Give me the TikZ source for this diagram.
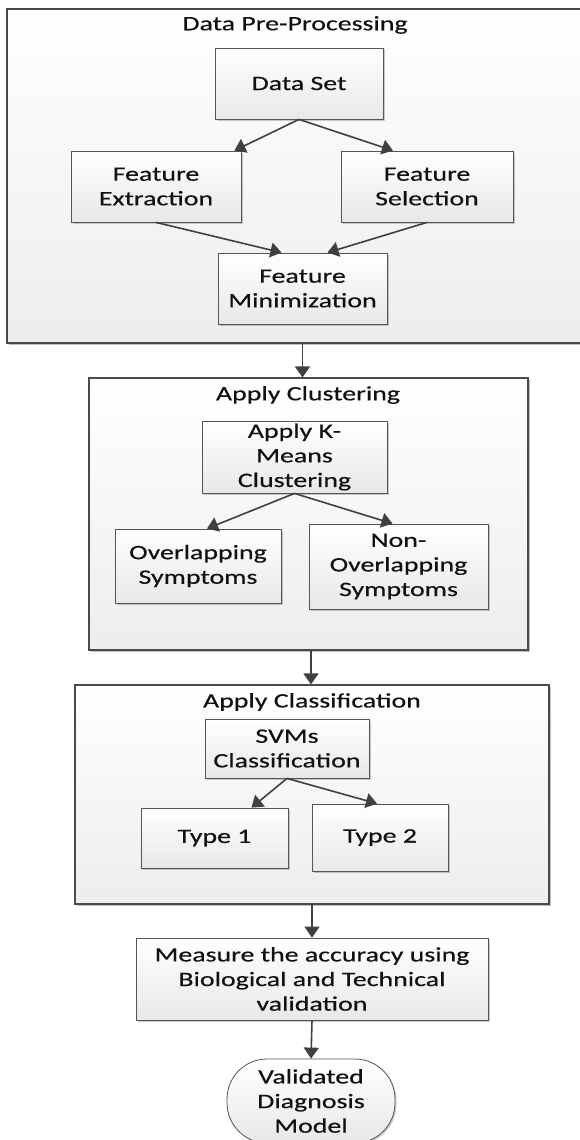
\documentclass[tikz,border=0pt]{standalone}
\usepackage{fontspec}
\setmainfont[FakeStretch=1.36,FakeBold=0.4]{Carlito}
\usetikzlibrary{arrows.meta,shadows}
\definecolor{edgec}{HTML}{555555}
\definecolor{outerc}{HTML}{4A4A4A}
\definecolor{arrc}{HTML}{404040}
\definecolor{txtc}{HTML}{111111}
\begin{document}
\begin{tikzpicture}[x=1pt,y=-1pt,
  outerbox/.style={draw=outerc, line width=1.1pt, top color=white, bottom color=black!7,
    drop shadow={shadow xshift=1.5pt, shadow yshift=-1.5pt, opacity=0.25, fill=black}},
  stepbox/.style={draw=edgec, line width=0.8pt, top color=white, bottom color=black!9,
    align=center, inner sep=0pt, text=txtc, font=\fontsize{20.5}{24.6}\selectfont,
    drop shadow={shadow xshift=1.5pt, shadow yshift=-1.5pt, opacity=0.2, fill=black}},
  titletext/.style={text=txtc, font=\fontsize{20.5}{24.6}\selectfont, inner sep=0pt},
  arr/.style={draw=arrc, line width=1.6pt, -{Triangle[length=11pt,width=15pt]}}]
\useasboundingbox (0,0) rectangle (580,1140);
\fill[white] (0,0) rectangle (580,1140);
\clip (0,0) rectangle (580,1140);

% outer containers
\node[outerbox, minimum width=578pt, minimum height=334pt, inner sep=0pt] (pre) at (296,176) {};
\node[outerbox, minimum width=439pt, minimum height=272pt, inner sep=0pt] (clu) at (308.5,514) {};
\node[outerbox, minimum width=474pt, minimum height=219pt, inner sep=0pt] (cla) at (312,794.5) {};

% titles
\node[titletext] (tpre) at (295,25) {Data Pre-Processing};
\node[titletext] (tclu) at (308,395) {Apply Clustering};
\node[titletext] (tcla) at (312,702) {Apply Classification};

% pre-processing boxes
\node[stepbox, minimum width=168pt, minimum height=71pt] (ds) at (299,83.5) {Data Set};
\node[stepbox, minimum width=170pt, minimum height=71pt] (fe) at (156,186.5) {Feature\\Extraction};
\node[stepbox, minimum width=172pt, minimum height=71pt] (fs) at (427,186.5) {Feature\\Selection};
\node[stepbox, minimum width=169pt, minimum height=71pt] (fm) at (302.5,288.5) {Feature\\Minimization};

% clustering boxes
\node[stepbox, minimum width=185pt, minimum height=72pt] (km) at (294.5,457) {Apply K-\\Means\\Clustering};
\node[stepbox, minimum width=166pt, minimum height=74pt] (ov) at (198,566) {Overlapping\\Symptoms};
\node[stepbox, minimum width=179pt, minimum height=85pt] (nov) at (398.5,566.5) {Non-\\Overlapping\\Symptoms};

% classification boxes
\node[stepbox, minimum width=164pt, minimum height=59pt] (svm) at (287,748.5) {SVMs\\Classification};
\node[stepbox, minimum width=147pt, minimum height=60pt] (t1) at (214.5,838) {Type 1};
\node[stepbox, minimum width=136pt, minimum height=67pt] (t2) at (380,837.5) {Type 2};

% measure and terminal
\node[stepbox, minimum width=352pt, minimum height=82pt] (me) at (312,979) {Measure the accuracy using\\Biological and Technical\\validation};
\node[stepbox, minimum width=168pt, minimum height=84pt, rounded corners=40pt] (vm) at (311,1101) {Validated\\Diagnosis\\Model};

% connectors
\draw[arr] (ds.south) -- ([xshift=-7pt]fe.north east);
\draw[arr] (ds.south) -- ([xshift=-34pt]fs.north);
\draw[arr] (fe.south) -- ([xshift=-21pt]fm.north);
\draw[arr] (fs.south) -- ([xshift=25pt]fm.north);
\draw[arr] (fm.south |- pre.south) -- (fm.south |- clu.north);
\draw[arr] (km.south) -- ([xshift=9pt]ov.north);
\draw[arr] (km.south) -- ([xshift=-6pt]nov.north);
\draw[arr] ([xshift=2.5pt]clu.south) -- ([xshift=2.5pt]clu.south |- cla.north);
\draw[arr] (svm.south) -- ([xshift=37pt]t1.north);
\draw[arr] (svm.south) -- ([xshift=-3pt]t2.north);
\draw[arr] (cla.south) -- (me.north);
\draw[arr] (me.south) -- (vm.north);
\end{tikzpicture}
\end{document}
